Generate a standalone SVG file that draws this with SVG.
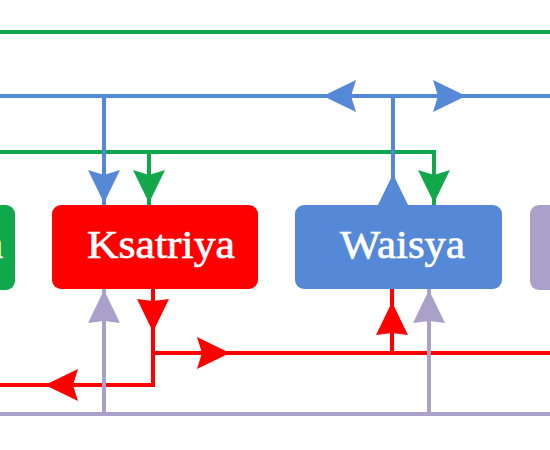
<svg xmlns="http://www.w3.org/2000/svg" xmlns:xlink="http://www.w3.org/1999/xlink" width="550" height="450" viewBox="0 0 550 450">
  <style>
    .ln { fill: none; stroke-width: 4; }
    .g { stroke: #11a84b; }
    .b { stroke: #5588d6; }
    .r { stroke: #ff0000; }
    .p { stroke: #a9a1c9; }
    .gf { fill: #11a84b; }
    .bf { fill: #5588d6; }
    .rf { fill: #ff0000; }
    .pf { fill: #a9a1c9; }
    .lbl { font-family: "Liberation Serif", "Times New Roman", serif; font-size: 40px; fill: #ffffff; stroke: #ffffff; stroke-width: 0.7; }
  </style>
  <defs>
    <path id="ah" d="M0 0 L-33 -16 L-28 0 L-33 16 Z"/>
    <path id="ahf" d="M0 0 L-33 -16 L-31 0 L-33 16 Z"/>
  </defs>
  <rect width="550" height="450" fill="#ffffff"/>

  <g id="brahmana">
    <rect x="-60" y="205" width="75" height="85" rx="9" class="gf"/>
    <text x="3" y="258" class="lbl" text-anchor="end">a</text>
  </g>
  <g id="ksatriya">
    <rect x="52" y="205" width="206" height="84" rx="9" class="rf"/>
    <text x="87" y="258" class="lbl" textLength="148" lengthAdjust="spacingAndGlyphs">Ksatriya</text>
  </g>
  <g id="waisya">
    <rect x="295" y="205" width="207" height="84" rx="9" class="bf"/>
    <text x="340" y="258" class="lbl" textLength="125" lengthAdjust="spacingAndGlyphs">Waisya</text>
  </g>
  <g id="sudra">
    <rect x="530" y="205" width="80" height="85" rx="9" class="pf"/>
  </g>

  <g id="connectors">
    <!-- green -->
    <path class="ln g" d="M0 32 H550"/>
    <path class="ln g" d="M0 152 H434 V205 M149 152 V205"/>
    <use xlink:href="#ah" class="gf" transform="translate(149 203) rotate(90)"/>
    <use xlink:href="#ah" class="gf" transform="translate(434 203) rotate(90)"/>
    <!-- blue -->
    <path class="ln b" d="M0 96 H550 M104 96 V205 M393 96 V205"/>
    <use xlink:href="#ah" class="bf" transform="translate(323 96) rotate(180)"/>
    <use xlink:href="#ah" class="bf" transform="translate(466 96)"/>
    <use xlink:href="#ah" class="bf" transform="translate(104 203) rotate(90)"/>
    <use xlink:href="#ahf" class="bf" transform="translate(393 174) rotate(-90)"/>
    <!-- red -->
    <path class="ln r" d="M153 289 V385 H0 M153 353 H550 M392 353 V289"/>
    <use xlink:href="#ahf" class="rf" transform="translate(153 332) rotate(90)"/>
    <use xlink:href="#ah" class="rf" transform="translate(45 385) rotate(180)"/>
    <use xlink:href="#ah" class="rf" transform="translate(230 353)"/>
    <use xlink:href="#ahf" class="rf" transform="translate(392 302) rotate(-90)"/>
    <!-- purple -->
    <path class="ln p" d="M0 414 H550 M104 414 V289 M429 414 V289"/>
    <use xlink:href="#ahf" class="pf" transform="translate(104 290) rotate(-90)"/>
    <use xlink:href="#ahf" class="pf" transform="translate(429 290) rotate(-90)"/>
  </g>
</svg>
